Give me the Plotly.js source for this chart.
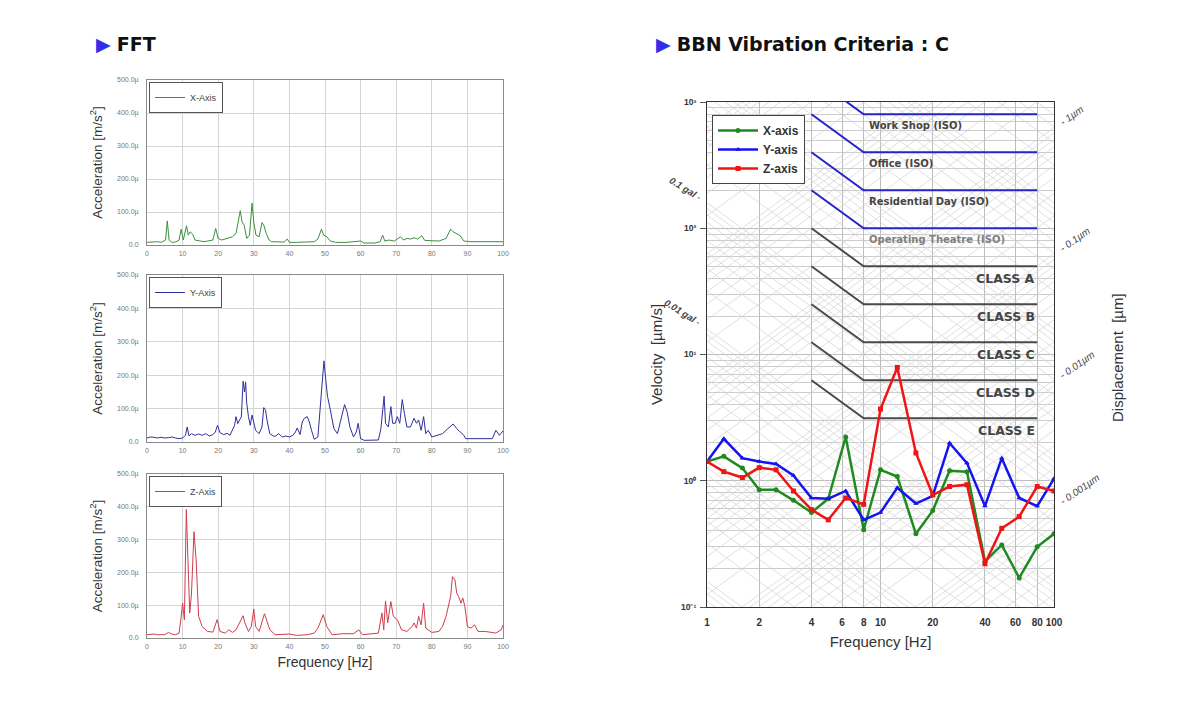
<!DOCTYPE html>
<html><head><meta charset="utf-8">
<script src="https://cdn.plot.ly/plotly-3.0.1.min.js"></script>
<style>html,body{margin:0;padding:0;background:#fff}#chart{width:1180px;height:702px}</style>
</head><body><div id="chart"></div>
<script>
// ---------- FFT spectra (frequency Hz, acceleration in µm/s²) ----------
const fftXAxis = [[0,8],[1,9],[2,8],[3,10],[4,8],[5.2,15],[5.7,73],[6.2,15],[7,8],[8,9],[9,15],[9.6,48],[10.2,15],[11.1,58],[11.6,30],[12.1,40],[12.8,33],[13.5,15],[15,12],[16,10],[17,12],[18.5,15],[19.3,50],[20,20],[21,15],[22,18],[23,22],[24,25],[25,35],[25.8,80],[26.2,104],[26.7,70],[27.3,60],[28,20],[28.8,30],[29.5,127],[30,68],[30.6,30],[31.5,25],[32.3,68],[32.8,60],[33.5,35],[34.3,15],[35,10],[37,10],[38.5,9],[39.4,18],[40,8],[42,8],[45,8],[47,10],[48,18],[49,48],[49.6,30],[50.5,25],[51.5,12],[53,8],[56,8],[58,10],[60,12],[61,6],[64,6],[65.5,10],[66.2,30],[66.8,12],[68,15],[69.5,12],[71.2,25],[72,15],[73,20],[74,18],[75,22],[76,18],[77.2,28],[78,14],[80,12],[82,12],[84,20],[85.3,48],[86,40],[87,35],[88,28],[89,12],[91,10],[95,10],[100,10]];
const fftYAxis = [[0,12],[1,15],[2,14],[3,12],[4,14],[5,12],[6,13],[7,15],[8,12],[9,10],[10,12],[10.8,20],[11.3,45],[11.8,18],[12.5,25],[13.5,20],[14.5,24],[15.5,20],[16.5,25],[17.5,18],[18.5,22],[19.2,30],[19.8,50],[20.5,28],[21.5,22],[22.5,26],[23.3,20],[24,38],[24.6,50],[25,76],[25.5,55],[26,66],[26.5,75],[27,182],[27.4,150],[27.7,180],[28,117],[28.5,76],[29,50],[29.5,81],[30,55],[30.5,35],[31.5,25],[32.3,45],[32.8,103],[33.3,95],[33.8,60],[34.5,25],[35.5,18],[36,17],[37,25],[38,15],[39,18],[40,15],[41,20],[41.7,30],[42.2,42],[43,22],[43.6,60],[44.2,71],[45,76],[45.6,60],[46.2,35],[47,8],[48,15],[48.7,106],[49.3,188],[49.7,243],[50.2,188],[50.7,137],[51.5,96],[52.5,40],[53.5,25],[54.5,66],[55.5,112],[56.2,91],[57,45],[58,15],[58.8,30],[59.3,56],[60,10],[61,5],[63,5],[65,6],[65.7,40],[66.1,76],[66.6,137],[67,56],[67.8,45],[68.5,106],[69,56],[69.7,56],[70.3,76],[71,56],[71.7,127],[72.3,86],[73,45],[74,45],[75,71],[75.7,56],[76.3,66],[77,35],[77.7,76],[78.3,25],[79,35],[80,15],[81,18],[82,20],[83,25],[84,35],[85,45],[86,54],[87,40],[88,30],[89,20],[89.5,10],[91,10],[93,10],[95,10],[97,10],[98,35],[99,20],[100,33]];
const fftZAxis = [[0,10],[1,12],[2,12],[3,10],[4,10],[5,10],[6,17],[7,12],[8,10],[9,15],[9.5,56],[10,106],[10.5,56],[11.05,392],[11.5,238],[12,76],[12.5,137],[13.2,324],[13.8,238],[14.5,66],[15.5,35],[17,20],[18.5,18],[19.7,56],[20.5,20],[22,15],[23,25],[24,17],[25,25],[26,46],[27,68],[27.5,46],[28.5,20],[29.3,35],[30,88],[30.5,35],[31.5,20],[33,74],[33.5,56],[34.5,25],[36,10],[38,10],[40,12],[42,8],[45,10],[47,15],[48,30],[49.5,71],[50.5,35],[52,10],[55,13],[58,13],[59.5,25],[60.5,10],[63,13],[65,15],[66,76],[66.5,25],[67,113],[67.6,46],[68.5,111],[69.2,66],[70.3,56],[71.5,25],[73,20],[74.5,35],[75,46],[75.7,30],[76.3,66],[77,40],[77.7,106],[78.3,30],[80,17],[82,20],[83,35],[84,66],[85.3,127],[85.8,187],[86.5,177],[87,137],[87.5,127],[88.2,106],[88.7,122],[89.3,96],[90,35],[91,30],[92,40],[93,20],[95,20],[98,15],[99.5,25],[100,40]];
const fftTickVals = [0,100,200,300,400,500];
const fftTickText = ['0.0','100.0µ','200.0µ','300.0µ','400.0µ','500.0µ'];
const fftFreqTicks = [0,10,20,30,40,50,60,70,80,90,100];

// ---------- BBN criteria chart (1/3 octave bands, velocity µm/s) ----------
const bandFreqs = [1,1.25,1.6,2,2.5,3.15,4,5,6.3,8,10,12.5,16,20,25,31.5,40,50,63,80,100];
const velX = [1.42,1.56,1.26,0.85,0.85,0.70,0.56,0.72,2.22,0.41,1.22,1.08,0.38,0.58,1.20,1.18,0.23,0.31,0.17,0.30,0.38];
const velY = [1.42,2.15,1.51,1.42,1.36,1.10,0.73,0.72,0.83,0.49,0.56,0.88,0.66,0.76,1.99,1.38,0.63,1.51,0.73,0.63,1.04];
const velZ = [1.42,1.18,1.06,1.27,1.22,0.83,0.59,0.49,0.73,0.65,3.7,7.9,1.66,0.77,0.90,0.93,0.22,0.42,0.52,0.90,0.83];

const criteriaNames = ['Work Shop (ISO)','Office (ISO)','Residential Day (ISO)','Operating Theatre (ISO)','CLASS A','CLASS B','CLASS C','CLASS D','CLASS E'];
const criteriaStart = [1600,800,400,200,100,50,25,12.5,6.25];   // value at 4 Hz
const criteriaFlat  = [800,400,200,100,50,25,12.5,6.25,3.125];  // value from 8 Hz to 80 Hz
const criteriaFreqs = [4,8,80];
const criteriaIsISO = [true,true,true,true,false,false,false,false,false];

const velTickVals = [0.1,1,10,100,1000];
const velTickText = ['10⁻¹','10⁰','10¹','10²','10³'];
const bandTickVals = [1,2,4,6,8,10,20,40,60,80,100];
const gridDigits = [1,2,3,4,5,6,7,8,9];
const dispDecades = [-4,-3,-2,-1,0,1,2];
const accDecades = [-1,0,1,2,3,4,5];
const dispLabels = ['1µm','0.1µm','0.01µm','0.001µm'];
const dispLabelVals = [1,0.1,0.01,0.001];
const galLabels = ['0.1 gal','0.01 gal'];
const galLabelVals = [1e6*0.1*0.01,1e6*0.01*0.01]; // gal -> µm/s²

// ---------- helpers ----------
const W = 1180, H = 702;
const px = v => v / W;
const py = v => 1 - v / H;
const FONT = 'Liberation Sans, Arial, sans-serif';
const WIDE = 'DejaVu Sans, Verdana, sans-serif';

const traces = [];

// hatch: constant displacement and constant acceleration lines
const hx = [], hy = [], ax = [], ay = [];
const fLo = bandTickVals[0], fHi = bandTickVals[bandTickVals.length - 1];
dispDecades.forEach(k => gridDigits.forEach(m => {
  const d = m * Math.pow(10, k);
  hx.push(fLo, fHi, null); hy.push(2 * Math.PI * fLo * d, 2 * Math.PI * fHi * d, null);
}));
accDecades.forEach(k => gridDigits.forEach(m => {
  const a = m * Math.pow(10, k);
  ax.push(fLo, fHi, null); ay.push(a / (2 * Math.PI * fLo), a / (2 * Math.PI * fHi), null);
}));
traces.push({x: hx, y: hy, xaxis: 'x4', yaxis: 'y4', mode: 'lines', line: {color: '#d3d3d3', width: 0.7}, hoverinfo: 'skip', showlegend: false});
traces.push({x: ax, y: ay, xaxis: 'x4', yaxis: 'y4', mode: 'lines', line: {color: '#d3d3d3', width: 0.7}, hoverinfo: 'skip', showlegend: false});

// criteria curves
criteriaNames.forEach((n, i) => {
  traces.push({x: criteriaFreqs, y: [criteriaStart[i], criteriaFlat[i], criteriaFlat[i]], xaxis: 'x4', yaxis: 'y4',
    mode: 'lines', line: {color: criteriaIsISO[i] ? '#2424c8' : '#4a4a4a', width: 2}, showlegend: false, name: n});
});

// velocity data
const velSeries = [
  {name: 'X-axis', y: velX, color: '#1f8a1f', symbol: 'circle'},
  {name: 'Y-axis', y: velY, color: '#1414f0', symbol: 'triangle-up'},
  {name: 'Z-axis', y: velZ, color: '#f01414', symbol: 'square'}
];
velSeries.forEach(s => traces.push({x: bandFreqs, y: s.y, name: s.name, xaxis: 'x4', yaxis: 'y4', mode: 'lines+markers',
  line: {color: s.color, width: 2.5}, marker: {symbol: s.symbol, size: 5, color: s.color}, legend: 'legend4'}));

// FFT traces
const fftSeries = [
  {name: 'X-Axis', d: fftXAxis, color: '#3d8f3d', ax: ['x', 'y'], legend: 'legend'},
  {name: 'Y-Axis', d: fftYAxis, color: '#30309a', ax: ['x2', 'y2'], legend: 'legend2'},
  {name: 'Z-Axis', d: fftZAxis, color: '#d03c4c', ax: ['x3', 'y3'], legend: 'legend3'}
];
fftSeries.forEach(s => traces.push({x: s.d.map(p => p[0]), y: s.d.map(p => p[1]), name: s.name, xaxis: s.ax[0], yaxis: s.ax[1],
  mode: 'lines', line: {color: s.color, width: 1}, legend: s.legend}));

// ---------- layout ----------
const leftX = [px(147), px(503)];
const fftRows = [[80, 245], [275, 442], [474, 638]];
const layout = {
  width: W, height: H, margin: {l: 0, r: 0, t: 0, b: 0}, paper_bgcolor: '#fff', plot_bgcolor: '#fff',
  font: {family: FONT, color: '#333'}, showlegend: true, annotations: [], shapes: []
};
fftRows.forEach((r, i) => {
  const sfx = i === 0 ? '' : String(i + 1);
  layout['xaxis' + sfx] = {domain: leftX, anchor: 'y' + sfx, range: [0, 100], tickvals: fftFreqTicks, ticks: '', showgrid: true,
    gridcolor: '#d4d4d4', gridwidth: 1, zeroline: false, showline: true, mirror: true, linecolor: '#8a8a8a', linewidth: 1,
    tickfont: {size: 7, color: '#777'}, ticklabelstandoff: 2, fixedrange: true};
  layout['yaxis' + sfx] = {domain: [py(r[1]), py(r[0])], anchor: 'x' + sfx, range: [0, 500], tickvals: fftTickVals, ticktext: fftTickText,
    ticks: '', showgrid: true, gridcolor: '#d4d4d4', zeroline: false, showline: true, mirror: true, linecolor: '#8a8a8a', linewidth: 1,
    tickfont: {size: 7, color: '#777'}, ticklabelstandoff: 6,
    title: {text: 'Acceleration [m/s<sup>2</sup>]', font: {size: 13.5, color: '#333'}, standoff: 11}};
  const lg = i === 0 ? 'legend' : 'legend' + (i + 1);
  layout[lg] = {x: px(149), y: py(r[0] + 2), xanchor: 'left', yanchor: 'top', bgcolor: '#fff', bordercolor: '#555', borderwidth: 1,
    font: {size: 9, color: '#444'}, itemwidth: 30, tracegroupgap: 0};
});
layout.xaxis3.title = {text: 'Frequency [Hz]', font: {size: 14, color: '#333'}, standoff: 7};

const minorVel = [];
[-1, 0, 1, 2].forEach(k => gridDigits.slice(1).forEach(m => minorVel.push(m * Math.pow(10, k))));
layout.xaxis4 = {domain: [px(707), px(1054)], anchor: 'y4', type: 'log', range: [0, 2], tickvals: bandTickVals, ticktext: bandTickVals.map(String),
  ticks: '', showgrid: true, gridcolor: '#bdbdbd', zeroline: false, showline: true, mirror: true, linecolor: '#333', linewidth: 1,
  tickfont: {size: 10, color: '#333', weight: 'bold'}, ticklabelstandoff: 6,
  title: {text: 'Frequency [Hz]', font: {size: 15, color: '#333'}, standoff: 9}};
layout.yaxis4 = {domain: [py(607), py(102)], anchor: 'x4', type: 'log', range: [-1, 3], tickvals: velTickVals, ticktext: velTickText,
  ticks: 'outside', ticklen: 6, tickcolor: '#555', showgrid: true, gridcolor: '#bdbdbd', zeroline: false, showline: true, mirror: true, linecolor: '#333', linewidth: 1,
  minor: {tickvals: minorVel, showgrid: true, gridcolor: '#cdcdcd', ticks: ''},
  tickfont: {size: 8.5, color: '#333', weight: 'bold'}, ticklabelstandoff: 2,
  title: {text: 'Velocity  [µm/s]', font: {size: 15, color: '#333'}, standoff: 14}};
layout.legend4 = {x: px(712), y: py(115), xanchor: 'left', yanchor: 'top', bgcolor: '#fff', bordercolor: '#444', borderwidth: 1,
  font: {size: 12, color: '#333', weight: 'bold'}, itemwidth: 40, tracegroupgap: 0};

// headings
layout.annotations.push({xref: 'paper', yref: 'paper', x: px(94), y: py(44), xanchor: 'left', yanchor: 'middle', showarrow: false,
  text: '<span style="color:#2f2fe8">▶</span> <b>FFT</b>', font: {size: 19, color: '#111', family: WIDE}});
layout.annotations.push({xref: 'paper', yref: 'paper', x: px(654), y: py(44), xanchor: 'left', yanchor: 'middle', showarrow: false,
  text: '<span style="color:#2f2fe8">▶</span> <b>BBN Vibration Criteria : C</b>', font: {size: 19, color: '#111', family: WIDE}});
layout.annotations.push({xref: 'paper', yref: 'paper', x: px(1117), y: py(358), xanchor: 'center', yanchor: 'middle', showarrow: false,
  textangle: -90, text: 'Displacement  [µm]', font: {size: 15, color: '#333'}});

// criteria labels
criteriaNames.forEach((n, i) => {
  const iso = criteriaIsISO[i];
  layout.annotations.push({xref: 'x4', yref: 'y4', x: Math.log10(iso ? 8.4 : 80), y: Math.log10(criteriaFlat[i]),
    xanchor: iso ? 'left' : 'right', yanchor: 'top', yshift: iso ? -4 : -3, showarrow: false, text: '<b>' + n + '</b>',
    font: {size: iso ? 10 : 12.5, family: WIDE, color: i === 3 ? '#808080' : '#454545'}});
});
// displacement labels on right edge
dispLabels.forEach((t, i) => {
  const v = 2 * Math.PI * fHi * dispLabelVals[i];
  layout.annotations.push({xref: 'paper', yref: 'y4', x: px(1055), y: Math.log10(v), xanchor: 'left', yanchor: 'bottom', yshift: -3,
    showarrow: false, textangle: -35, text: '- <i>' + t + '</i>', font: {size: 10, color: '#444'}});
});
galLabels.forEach((t, i) => {
  const v = galLabelVals[i] / (2 * Math.PI * fLo);
  layout.annotations.push({xref: 'paper', yref: 'y4', x: px(706), y: Math.log10(v), xanchor: 'right', yanchor: 'bottom', yshift: -2,
    showarrow: false, textangle: 32, text: '<i><b>' + t + '</b></i> -', font: {size: 9.5, color: '#444'}});
});

Plotly.newPlot('chart', traces, layout, {staticPlot: true, displayModeBar: false});
</script>
</body></html>
